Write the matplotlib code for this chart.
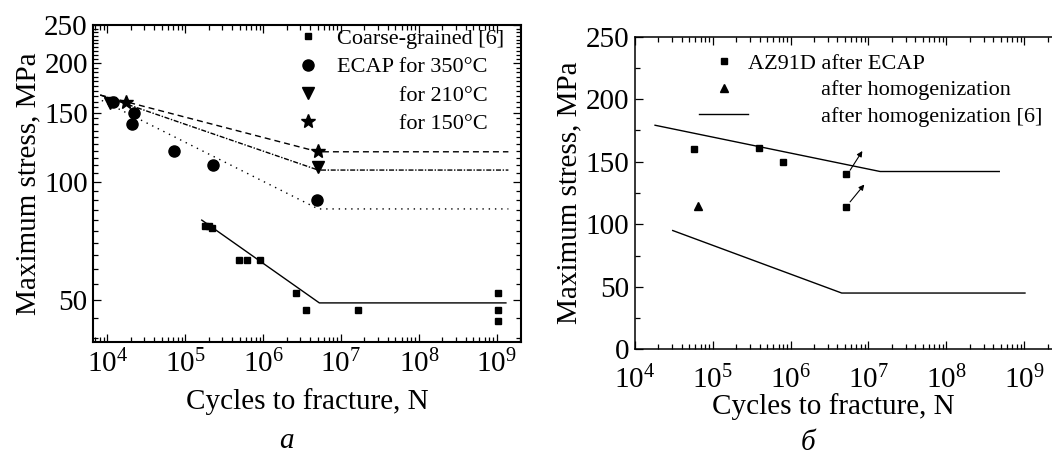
import matplotlib
matplotlib.use('Agg')
import matplotlib.pyplot as plt
from matplotlib.lines import Line2D
from matplotlib.ticker import (LogLocator, MultipleLocator, FixedLocator,
                               NullFormatter, FuncFormatter)

plt.rcParams['font.family'] = ['Liberation Serif', 'DejaVu Serif']
plt.rcParams['mathtext.fontset'] = 'custom'
plt.rcParams['mathtext.rm'] = 'Liberation Serif'
plt.rcParams['mathtext.it'] = 'Liberation Serif:italic'

# ---- panel a ----
cg_n = [1.77e5, 2.0e5, 2.2e5, 4.94e5, 6.16e5, 9.2e5, 2.65e6, 3.54e6, 1.66e7, 1.03e9, 1.03e9, 1.03e9]
cg_s = [77.3, 77.3, 76.5, 63.2, 63.2, 63.2, 52.2, 47.2, 47.2, 52.2, 47.2, 44.2]
cg_fit_n = [1.63e5, 5.27e6, 1.31e9]
cg_fit_s = [79.9, 49.2, 49.2]

e350_n = [1.19e4, 2.2e4, 2.06e4, 7.24e4, 2.25e5, 4.88e6]
e350_s = [159.8, 149.8, 140.0, 119.9, 110.1, 89.8]
e210_n = [1.08e4, 5.1e6]
e210_s = [158.3, 109.2]
e150_n = [1.72e4, 5.1e6]
e150_s = [159.8, 119.9]

fit_n = [8.1e3, 5.1e6, 1.41e9]
fit150_s = [166.2, 119.2, 119.2]
fit210_s = [166.2, 107.1, 107.1]
fit350_n = [8.5e3, 5.1e6, 1.41e9]
fit350_s = [161.0, 85.3, 85.3]

# ---- panel b ----
az_n = [5.8e4, 3.96e5, 8.05e5, 5.1e6, 5.1e6]
az_s = [160, 161, 150, 140, 114]
hom_n = [6.4e4]
hom_s = [115]
ref_up_n = [1.82e4, 1.41e7, 4.77e8]
ref_up_s = [179.2, 142.2, 142.2]
ref_lo_n = [3.07e4, 4.53e6, 1.02e9]
ref_lo_s = [95, 45, 45]
arrow_from = [(5.8e6, 143.2), (5.8e6, 117.9)]
arrow_to = [(8.34e6, 158.6), (8.84e6, 131.8)]

FS = 21
LFS = 16

fig = plt.figure(figsize=(10.52, 4.55), dpi=100)
ax1 = fig.add_axes([0.0887, 0.2490, 0.4066, 0.6954])
ax2 = fig.add_axes([0.6034, 0.2323, 0.4042, 0.6870])

# panel a
ax1.plot(cg_fit_n, cg_fit_s, color='k', lw=1.0)
ax1.plot(fit_n, fit150_s, color='k', lw=1.0, ls=(0, (4.3, 2.9)))
ax1.plot(fit_n, fit210_s, color='k', lw=1.0, ls=(0, (3.6, 1.2, 1.0, 1.2)))
ax1.plot(fit350_n, fit350_s, color='k', lw=1.0, ls=(0, (1.0, 3.5)))
ax1.plot(cg_n, cg_s, 's', color='k', ms=5)
ax1.plot(e350_n, e350_s, 'o', color='k', ms=8)
ax1.plot(e210_n, e210_s, 'v', color='k', ms=8)
ax1.plot(e150_n, e150_s, '*', color='k', ms=10)

ax1.set_xscale('log')
ax1.set_yscale('log')
ax1.set_xlim(6607, 2.05e9)
ax1.set_ylim(39.2, 250)
ax1.yaxis.set_major_locator(FixedLocator([50, 100, 150, 200, 250]))
ax1.yaxis.set_major_formatter(FuncFormatter(lambda v, p: '%g' % v))
ax1.yaxis.set_minor_locator(MultipleLocator(5))
ax1.yaxis.set_minor_formatter(NullFormatter())
ax1.xaxis.set_major_locator(LogLocator(base=10, numticks=20))
ax1.xaxis.set_minor_locator(LogLocator(base=10, subs=range(2, 10), numticks=20))
ax1.xaxis.set_minor_formatter(NullFormatter())

h1 = [Line2D([], [], ls='none', marker='s', color='k', ms=5),
      Line2D([], [], ls='none', marker='o', color='k', ms=8),
      Line2D([], [], ls='none', marker='v', color='k', ms=8),
      Line2D([], [], ls='none', marker='*', color='k', ms=10)]
l1 = ['Coarse-grained [6]', 'ECAP for 350°C',
      '           for 210°C', '           for 150°C']
ax1.legend(h1, l1, loc='upper left', bbox_to_anchor=(0.45, 0.99), frameon=False,
           fontsize=LFS, handlelength=2.0, handletextpad=0.3, borderpad=0,
           borderaxespad=0, labelspacing=0.35)

# panel b
ax2.plot(ref_up_n, ref_up_s, color='k', lw=1.0)
ax2.plot(ref_lo_n, ref_lo_s, color='k', lw=1.0)
ax2.plot(az_n, az_s, 's', color='k', ms=5)
ax2.plot(hom_n, hom_s, '^', color='k', ms=6)
for a, b in zip(arrow_from, arrow_to):
    ax2.annotate('', xy=b, xytext=a,
                 arrowprops=dict(arrowstyle='-|>', color='k', lw=0.8,
                                 mutation_scale=8, shrinkA=0, shrinkB=0))

ax2.set_xscale('log')
ax2.set_xlim(1e4, 10 ** 9.458)
ax2.set_ylim(0, 250)
ax2.yaxis.set_major_locator(MultipleLocator(50))
ax2.yaxis.set_minor_locator(MultipleLocator(25))
ax2.xaxis.set_major_locator(LogLocator(base=10, numticks=20))
ax2.xaxis.set_minor_locator(LogLocator(base=10, subs=range(2, 10), numticks=20))
ax2.xaxis.set_minor_formatter(NullFormatter())

h2 = [Line2D([], [], ls='none', marker='s', color='k', ms=5),
      Line2D([], [], ls='none', marker='^', color='k', ms=6),
      Line2D([], [], color='k', lw=1.0)]
l2 = ['AZ91D after ECAP', '             after homogenization',
      '             after homogenization [6]']
ax2.legend(h2, l2, loc='upper left', bbox_to_anchor=(0.1517, 0.947), frameon=False,
           fontsize=LFS, handlelength=2.2, handletextpad=0.0, borderpad=0,
           borderaxespad=0, labelspacing=0.27)

for ax, sw in ((ax1, 1.5), (ax2, 1.1)):
    for s in ax.spines.values():
        s.set_linewidth(sw)
    ax.tick_params(which='both', direction='in', top=True, right=True,
                   labelsize=FS, width=0.9)
    ax.tick_params(which='major', length=6)
    ax.tick_params(which='minor', length=3.5)
    ax.tick_params(axis='y', pad=4)
    ax.set_ylabel('Maximum stress, MPa', fontsize=FS, labelpad=2)

ax1.tick_params(axis='x', pad=6)
ax2.tick_params(axis='x', pad=12)
ax1.set_xlabel('Cycles to fracture, N', fontsize=FS, labelpad=6.5)
ax2.set_xlabel('Cycles to fracture, N', fontsize=FS, labelpad=-1)
ax2.xaxis.label.set_x(0.466)

fig.text(0.272, 0.03, 'a', fontsize=FS, style='italic', ha='center', va='center')
fig.text(0.768, 0.027, 'б', fontsize=FS, style='italic', ha='center', va='center')

fig.savefig('out.png', dpi=100)
